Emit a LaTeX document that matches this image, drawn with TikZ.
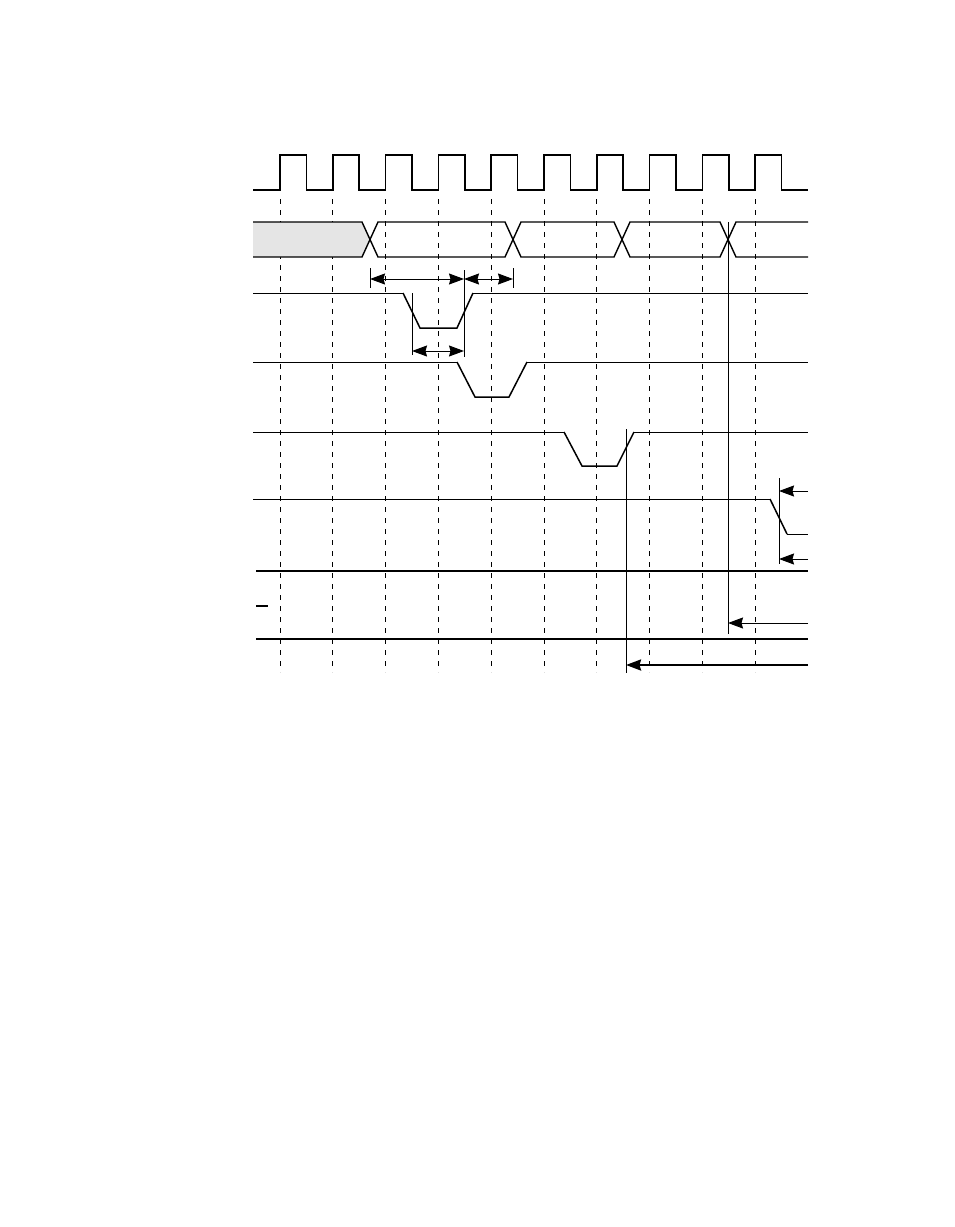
\documentclass[tikz,border=0pt]{standalone}
\usetikzlibrary{arrows.meta}

\begin{document}
\begin{tikzpicture}[x=1pt,y=-1pt,
    clk/.style={line width=1.5pt},
    sig/.style={line width=1pt},
    pulse/.style={line width=1.5pt, line join=miter},
    buswire/.style={line width=1.4pt},
    heavy/.style={line width=2.2pt},
    gridline/.style={line width=0.9pt, dash pattern=on 5pt off 6pt},
    marker/.style={line width=1pt},
    head/.tip={Stealth[length=15pt,width=11pt,inset=1.5pt]},
    tip/.style={-head},
    dim/.style={line width=1pt, head-head}]
    % Page size with its margins
    \useasboundingbox (0,0) rectangle (954,1227);

    % Clock
    \draw[clk] (253,190) \foreach \i in {0,...,9} {
        -- ({280+52.8*\i},190) -- ({280+52.8*\i},155)
        -- ({306.4+52.8*\i},155) -- ({306.4+52.8*\i},190) } -- (808,190);

    % Dashed lines at the rising edges
    \foreach \i in {0,...,9}
        \draw[gridline] ({280+52.8*\i},199) -- ({280+52.8*\i},672);

    % Bus: grey idle part, then three words
    \fill[gray!20] (253,222) -- (362,222) -- (370,239.5) -- (362,257) -- (253,257) -- cycle;
    \draw[buswire] (253,222) -- (362,222) -- (370,239.5) -- (362,257) -- (253,257);
    \foreach \a/\b in {370/513, 513/622, 622/728}
        \draw[buswire] (\a,239.5) -- (\a+8,222) -- (\b-8,222) -- (\b,239.5)
                       -- (\b-8,257) -- (\a+8,257) -- cycle;
    \draw[buswire] (808,222) -- (736,222) -- (728,239.5) -- (736,257) -- (808,257);

    % Marker coordinates
    \coordinate (busA) at (370,279);
    \coordinate (busB) at (513,279);
    \coordinate (rise1) at (464,279);
    \coordinate (rise1b) at (464,351);
    \coordinate (fall1) at (412,351);
    \coordinate (edge7) at (779,491);
    \coordinate (edge7b) at (779,559);
    \coordinate (ackA) at (728,623);
    \coordinate (ackB) at (626,665);
    \coordinate (endA) at (808,491);
    \coordinate (endB) at (808,559);
    \coordinate (endC) at (808,623);
    \coordinate (endD) at (808,665);

    % Row 1 pulse
    \draw[sig] (253,293) -- (403,293);
    \draw[pulse] (403,293) -- (420,328) -- (457,328) -- (473,293);
    \draw[sig] (473,293) -- (808,293);

    % Row 2 pulse
    \draw[sig] (253,362) -- (457,362);
    \draw[pulse] (457,362) -- (475,397) -- (509,397) -- (527,362);
    \draw[sig] (527,362) -- (808,362);

    % Row 3 pulse
    \draw[sig] (253,432) -- (564,432);
    \draw[pulse] (564,432) -- (582,466) -- (617,466) -- (634,432);
    \draw[sig] (634,432) -- (808,432);

    % Row 4 falls
    \draw[sig] (253,499) -- (770,499);
    \draw[pulse] (770,499) -- (787,534);
    \draw[sig] (787,534) -- (808,534);

    % Heavy lines
    \draw[heavy] (256,571) -- (808,571);
    \draw[heavy] (256,639) -- (808,639);
    \draw[heavy] (256,606) -- (268,606);

    % Vertical markers
    \draw[marker] (370,268) -- (370,288);
    \draw[marker] (513,268) -- (513,288);
    \draw[marker] (464,270) -- (464,357);
    \draw[marker] (412,293) -- (412,355);
    \draw[marker] (626,429) -- (626,673);
    \draw[marker] (779,478) -- (779,564);
    \draw[marker] (728,222) -- (728,634);

    % Dimension arrows
    \draw[dim] (busA) -- (rise1);
    \draw[dim] (rise1) -- (busB);
    \draw[dim] (fall1) -- (rise1b);

    % Arrows coming in from the right
    \draw[marker,tip] (endA) -- (edge7);
    \draw[marker,tip] (endB) -- (edge7b);
    \draw[marker,tip] (endC) -- (ackA);
    \draw[heavy,tip] (endD) -- (ackB);
\end{tikzpicture}
\end{document}
